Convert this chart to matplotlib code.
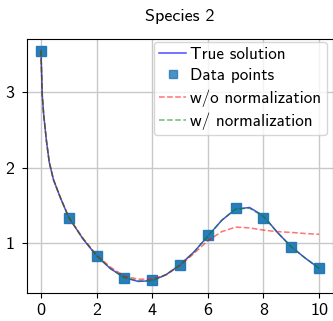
import matplotlib
matplotlib.use("Agg")
import matplotlib.pyplot as plt

plt.rcParams['font.family'] = ['cmss10', 'DejaVu Sans']
plt.rcParams['axes.unicode_minus'] = False
plt.rcParams['mathtext.fontset'] = 'cm'

# sample times of the data points
t_data = [0, 1, 2, 3, 4, 5, 6, 7, 8, 9, 10]
y_data = [3.55, 1.335, 0.83, 0.536, 0.51, 0.705, 1.10, 1.46, 1.335, 0.94, 0.665]

# curves
t_curve = [0, 0.05, 0.1, 0.2, 0.3, 0.45, 0.7, 1.0, 1.5, 2.0, 2.5, 3.0, 3.5,
           4.0, 4.5, 5.0, 5.5, 6.0, 6.5, 7.0, 7.5, 8.0, 8.5, 9.0, 9.5, 10.0]
y_true = [3.55, 2.95, 2.7, 2.35, 2.07, 1.84, 1.6, 1.34, 1.06, 0.83, 0.66, 0.54, 0.49,
          0.5, 0.58, 0.71, 0.88, 1.09, 1.30, 1.45, 1.47, 1.36, 1.14, 0.95, 0.80, 0.665]
y_wo = [3.55, 2.95, 2.7, 2.35, 2.07, 1.84, 1.6, 1.34, 1.07, 0.84, 0.68, 0.56, 0.52,
        0.52, 0.58, 0.70, 0.86, 1.03, 1.15, 1.21, 1.20, 1.17, 1.15, 1.14, 1.125, 1.115]
y_w = [3.55, 2.95, 2.7, 2.35, 2.07, 1.84, 1.6, 1.34, 1.06, 0.83, 0.66, 0.54, 0.5,
       0.5, 0.58, 0.71, 0.88, 1.09, 1.30, 1.45, 1.46, 1.35, 1.14, 0.95, 0.80, 0.665]

fig = plt.figure(figsize=(3.33, 3.21), dpi=100)
# axes: left 27px, right 333px, top 39px, bottom 293px
ax = fig.add_axes([27/333, 1 - 293/321, 306/333, 254/321])

ax.plot(t_curve, y_true, color='blue', alpha=0.7, lw=1.1, label='True solution')
ax.plot(t_data, y_data, 's', color='#1f77b4', markersize=7.5, alpha=0.95, label='Data points')
ax.plot(t_curve, y_wo, '--', color='red', alpha=0.55, lw=1.1, label='w/o normalization')
ax.plot(t_curve, y_w, '--', color='green', alpha=0.55, lw=1.1, label='w/ normalization')

ax.set_xticks([0, 2, 4, 6, 8, 10])
ax.set_yticks([1, 2, 3])
ax.tick_params(labelsize=13)
ax.tick_params(axis='y', pad=5.5)
ax.grid(True, color='#c8c8c8', lw=1.0)
ax.set_title('Species 2', fontsize=13, pad=13)
leg = ax.legend(loc='upper right', bbox_to_anchor=(326.7/333, 1 - 42/321),
                bbox_transform=fig.transFigure, borderaxespad=0,
                fontsize=12.3, handlelength=1.56, borderpad=0.32,
                labelspacing=0.34, handletextpad=0.25, markerscale=0.72)
leg.legend_handles[1].set_alpha(0.8)

fig.savefig('out.png', dpi=100)
